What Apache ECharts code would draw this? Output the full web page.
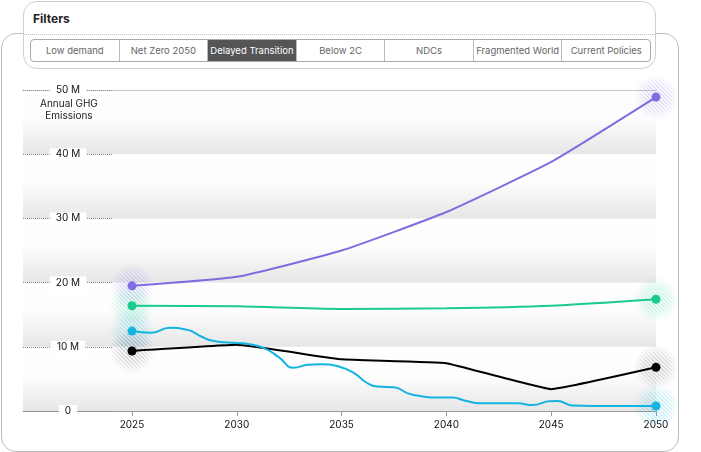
<!DOCTYPE html>
<html>
<head>
<meta charset="utf-8">
<script src="https://cdn.jsdelivr.net/npm/echarts@6.0.0/dist/echarts.min.js"></script>
<style>
  body { margin: 0; background: #fff; font-family: Inter, "Noto Sans", sans-serif; }
  #frame { position: absolute; left: 1px; top: 33px; width: 676px; height: 417px;
           border: 1px solid #bdbdbd; border-radius: 15px; z-index: 0; }
  #china { position: absolute; left: 0; top: 0; width: 701px; height: 452px; z-index: 1; }
  #filters { position: absolute; left: 23px; top: 1px; width: 631px; height: 66px;
             border: 1px solid #cfcfcf; border-radius: 14px; background: #fff; z-index: 2; }
  #filters .ttl { position: absolute; left: 9px; top: 9px; font-size: 12px; font-weight: 700; color: #222; }
  #filters .sep { position: absolute; left: 0; right: 0; top: 32px; border-top: 1px dotted #bbb; }
  #tabs { position: absolute; left: 6px; top: 37px; width: 619px; height: 21px;
          border: 1px solid #aaa; border-radius: 4px; display: flex; overflow: hidden; }
  #tabs div { flex: 1; font-size: 9.5px; color: #666; text-align: center; line-height: 21px;
              border-right: 1px solid #bbb; white-space: nowrap; }
  #tabs div:last-child { border-right: none; }
  #tabs div.on { background: #555; color: #fff; }
</style>
</head>
<body>
<div id="frame"></div>
<div id="china"></div>
<div id="filters">
  <div class="ttl">Filters</div>
  <div class="sep"></div>
  <div id="tabs"></div>
</div>
<script>
// 场景按钮
var scenarios = ['Low demand', 'Net Zero 2050', 'Delayed Transition', 'Below 2C', 'NDCs', 'Fragmented World', 'Current Policies'];
var activeScenario = 'Delayed Transition';

// 坐标轴刻度
var tickYears = [2025, 2030, 2035, 2040, 2045, 2050];

// 各条线的数据 (单位: M)
var purpleYears = [2025, 2030, 2035, 2040, 2045, 2050];
var purpleVals = [19.5, 20.9, 25.0, 31.0, 38.8, 48.9];
var greenYears = [2025, 2030, 2035, 2040, 2045, 2050];
var greenVals = [16.4, 16.3, 15.9, 16.0, 16.4, 17.4];
var blackYears = [2025, 2030, 2035, 2040, 2045, 2050];
var blackVals = [9.35, 10.3, 8.05, 7.45, 3.4, 6.8];
var cyanYears = [2025, 2025.9, 2026.8, 2027.7, 2028.3, 2028.9, 2030.0, 2030.6, 2031.3, 2032.0,
                 2032.7, 2033.4, 2034.0, 2034.9, 2035.6, 2036.2, 2036.7, 2037.5, 2038.2, 2038.8,
                 2039.6, 2040.3, 2040.9, 2041.6, 2043.4, 2044.1, 2044.9, 2045.3, 2046.0, 2047.0, 2050];
var cyanVals = [12.45, 12.2, 12.95, 12.6, 11.6, 10.9, 10.6, 10.4, 9.8, 8.4,
                6.75, 7.2, 7.3, 6.9, 5.9, 4.4, 3.8, 3.7, 2.7, 2.3,
                2.1, 2.1, 1.6, 1.2, 1.2, 0.93, 1.5, 1.55, 0.85, 0.78, 0.78];

var tabs = document.getElementById('tabs');
scenarios.forEach(function (s) {
    var d = document.createElement('div');
    d.textContent = s;
    if (s === activeScenario) d.className = 'on';
    tabs.appendChild(d);
});

var lines = [
    { name: 'purple', color: '#7f6ddf', rgb: '127,109,223', xs: purpleYears, ys: purpleVals, smooth: 0.15 },
    { name: 'green', color: '#19cc8c', rgb: '25,204,140', xs: greenYears, ys: greenVals, smooth: 0.3 },
    { name: 'black', color: '#000000', rgb: '0,0,0', xs: blackYears, ys: blackVals, smooth: 0.08 },
    { name: 'cyan', color: '#14b4e0', rgb: '20,180,224', xs: cyanYears, ys: cyanVals, smooth: 0.5 }
];

function pairs(xs, ys) {
    return xs.map(function (x, i) { return [x, ys[i]]; });
}

// 斜线条纹的光晕图片
function haloImage(rgb, alpha) {
    var n = 92;
    var c = document.createElement('canvas');
    c.width = n; c.height = n;
    var ctx = c.getContext('2d');
    var g = ctx.createRadialGradient(n / 2, n / 2, 0, n / 2, n / 2, n / 2);
    g.addColorStop(0, 'rgba(' + rgb + ',' + alpha + ')');
    g.addColorStop(0.55, 'rgba(' + rgb + ',' + (alpha * 0.7) + ')');
    g.addColorStop(1, 'rgba(' + rgb + ',0)');
    ctx.fillStyle = g;
    ctx.fillRect(0, 0, n, n);
    ctx.globalCompositeOperation = 'destination-out';
    ctx.strokeStyle = 'rgba(0,0,0,0.9)';
    ctx.lineWidth = 4;
    for (var k = -n; k < 2 * n; k += 8) {
        ctx.beginPath();
        ctx.moveTo(k, 0);
        ctx.lineTo(k + n, n);
        ctx.stroke();
    }
    return 'image://' + c.toDataURL();
}

var series = [];
lines.forEach(function (l) {
    var data = pairs(l.xs, l.ys);
    var last = data.length - 1;
    // 端点光晕
    series.push({
        type: 'scatter',
        name: l.name + '-halo',
        clip: false,
        silent: true,
        z: 1,
        symbol: haloImage(l.rgb, l.name === 'black' ? 0.4 : 0.55),
        symbolSize: 46,
        data: [data[0], data[last]]
    });
    series.push({
        type: 'line',
        name: l.name,
        z: 3,
        smooth: l.smooth,
        data: data,
        showSymbol: true,
        symbol: 'circle',
        symbolSize: function (v, p) { return (p.dataIndex === 0 || p.dataIndex === last) ? 9 : 0; },
        itemStyle: { color: l.color },
        lineStyle: { color: l.color, width: 2 }
    });
});

var myChart = echarts.init(document.getElementById('china'));
var option = {
    animation: false,
    grid: { left: 23, right: 45, top: 90, bottom: 41 },
    graphic: [{
        type: 'text', left: 40, top: 98, z: 100,
        style: { text: 'Annual GHG\nEmissions', textAlign: 'center', fontSize: 10, lineHeight: 12,
                 fill: '#222', fontFamily: 'Inter', x: 28, y: 0 }
    }],
    xAxis: [{
        type: 'value', min: 2019.8, max: 2050,
        axisLine: { lineStyle: { color: '#9a9a9a' } },
        axisTick: { customValues: tickYears, length: 5, lineStyle: { color: '#9a9a9a' } },
        axisLabel: { customValues: tickYears, fontSize: 10, color: '#111', margin: 9, fontFamily: 'Inter',
                     formatter: function (v) { return String(v); } },
        splitLine: { show: false }
    }, {
        type: 'value', position: 'top', min: 2019.8, max: 2050,
        axisLine: { lineStyle: { color: '#bbbbbb', type: [1, 1] } },
        axisTick: { show: false }, axisLabel: { show: false }, splitLine: { show: false }
    }],
    yAxis: {
        type: 'value', min: 0, max: 50, interval: 10,
        axisLine: { show: false },
        axisTick: { inside: true, length: 89, lineStyle: { color: '#8c8c8c', type: [1, 1] } },
        axisLabel: {
            inside: true, align: 'center', margin: 45, fontSize: 10, color: '#111',
            backgroundColor: '#fff', padding: [1, 6], fontFamily: 'Inter',
            formatter: function (v) { return v === 0 ? '0' : v + ' M'; }
        },
        splitLine: { show: false },
        splitArea: {
            show: true,
            areaStyle: {
                color: [{
                    type: 'linear', x: 0, y: 0, x2: 0, y2: 1,
                    colorStops: [
                        { offset: 0, color: '#ffffff' },
                        { offset: 0.45, color: '#fdfdfd' },
                        { offset: 1, color: '#e6e6e6' }
                    ]
                }]
            }
        }
    },
    series: series
};
myChart.setOption(option);
</script>
</body>
</html>
